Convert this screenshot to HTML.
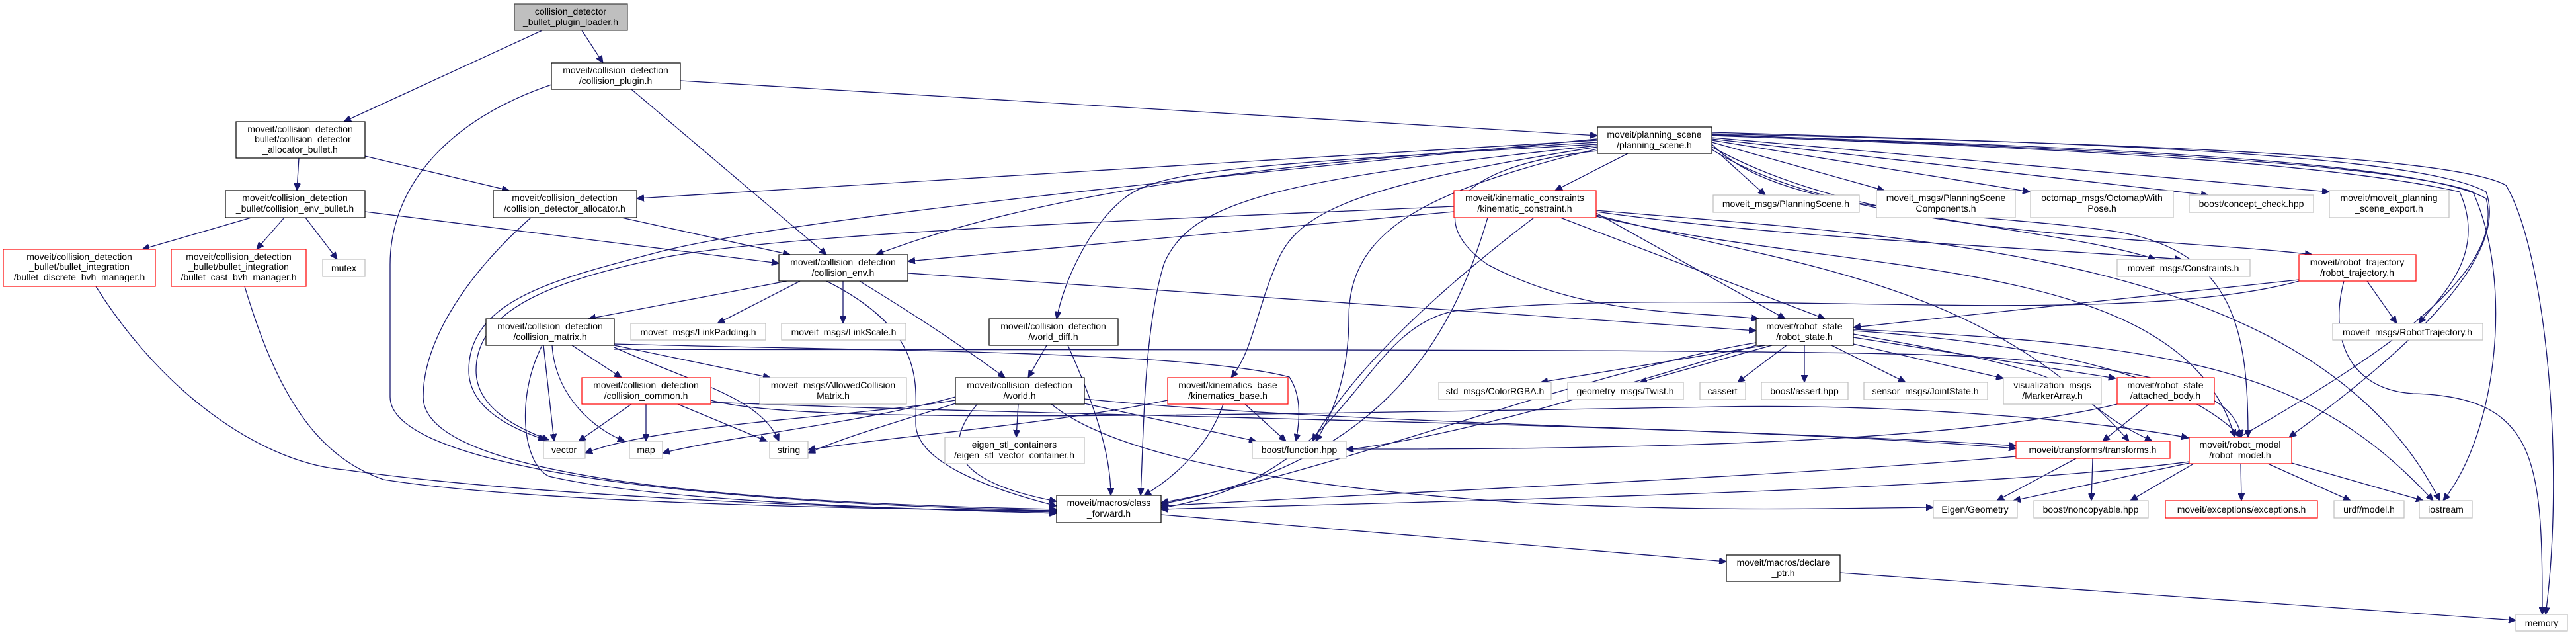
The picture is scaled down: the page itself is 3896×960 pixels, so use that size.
<!DOCTYPE html>
<html><head><meta charset="utf-8"><style>
html,body{margin:0;padding:0;background:#fff;}
svg{display:block;}
text{font-family:"Liberation Sans",sans-serif;font-size:14px;fill:#000;text-anchor:middle;}
.e{fill:none;stroke:#191970;stroke-width:1.3;marker-end:url(#a);}
.b{fill:#fff;stroke:#000;stroke-width:1.2;}
.g{fill:#fff;stroke:#bfbfbf;stroke-width:1.2;}
.r{fill:#fff;stroke:#ff0000;stroke-width:1.2;}
</style></head><body>
<svg width="3896" height="960" viewBox="0 0 3896 960" xmlns="http://www.w3.org/2000/svg">
<defs><marker id="a" markerUnits="userSpaceOnUse" markerWidth="12" markerHeight="10" refX="11" refY="5" orient="auto"><path d="M0,0 L11,5 L0,10 z" fill="#191970" stroke="#191970"/></marker></defs>

<!-- edges -->
<path class="e" d="M820,46 L520,184"/>
<path class="e" d="M880,46 L912,95"/>
<path class="e" d="M1029,122 L2416,205"/>
<path class="e" d="M955,135 L1250,385"/>
<path class="e" d="M834,128 C680,180 590,280 590,400 L590,600 C590,700 1000,760 1598,772"/>
<path class="e" d="M452,239 L449,288"/>
<path class="e" d="M552,236 L770,288"/>
<path class="e" d="M380,329 L215,377"/>
<path class="e" d="M430,329 L388,377"/>
<path class="e" d="M462,329 L510,392"/>
<path class="e" d="M552,320 L1178,398"/>
<path class="e" d="M940,329 L1195,385"/>
<path class="e" d="M803,329 C700,420 640,520 640,600 C640,720 1100,760 1598,770"/>
<path class="e" d="M145,433 C250,600 400,700 520,710 C800,750 1300,770 1598,774"/>
<path class="e" d="M370,433 C420,600 480,690 580,725 C800,760 1300,770 1598,772"/>
<path class="e" d="M2416,212 L963,300"/>
<path class="e" d="M2416,215 C2000,240 1600,280 1325,385"/>
<path class="e" d="M2462,232 L2352,288"/>
<path class="e" d="M2416,218 C1850,250 1750,260 1700,300 C1650,340 1610,420 1598,482"/>
<path class="e" d="M2416,220 C1950,270 1800,300 1760,400 C1730,500 1730,650 1725,749"/>
<path class="e" d="M2416,222 C2050,280 1960,320 1930,400 C1900,470 1895,530 1862,571"/>
<path class="e" d="M2416,225 C2150,290 2040,350 2040,480 C2040,560 2020,620 1990,667"/>
<path class="e" d="M2416,228 C2200,250 2150,330 2250,400 C2400,480 2560,470 2660,482"/>
<path class="e" d="M2600,232 L2670,295"/>
<path class="e" d="M2589,215 L2850,288"/>
<path class="e" d="M2589,212 L3070,290"/>
<path class="e" d="M2589,210 L3340,295"/>
<path class="e" d="M2589,208 L3523,290"/>
<path class="e" d="M2589,222 C2800,340 3100,340 3260,392"/>
<path class="e" d="M2589,226 C2800,360 3300,360 3497,385"/>
<path class="e" d="M2589,218 C2700,330 3000,320 3200,350 C3380,380 3400,500 3400,661"/>
<path class="e" d="M2589,205 C3000,220 3500,240 3720,290 C3760,380 3700,440 3658,489"/>
<path class="e" d="M2589,203 C3000,220 3600,240 3740,290 C3800,420 3780,650 3695,757"/>
<path class="e" d="M2589,204 C3100,220 3650,240 3760,300 C3800,450 3450,620 3222,757"/>
<path class="e" d="M2589,202 C3100,215 3700,230 3790,280 C3850,380 3880,700 3850,929"/>
<path class="e" d="M2589,200 C3100,215 3650,230 3760,290 C3800,400 3600,560 3462,661"/>
<path class="e" d="M2416,210 C1800,270 1200,330 1000,380 C850,420 709,450 709,560 C709,620 780,650 825,665"/>
<path class="e" d="M2199,312 C1800,330 1200,350 1000,390 C860,420 720,460 720,560 C720,620 790,650 830,665"/>
<path class="e" d="M2199,320 L1373,395"/>
<path class="e" d="M2250,329 C2200,500 2100,700 1756,762"/>
<path class="e" d="M2320,329 C2200,420 2050,550 1985,667"/>
<path class="e" d="M2414,322 L2700,482"/>
<path class="e" d="M2360,329 L2760,482"/>
<path class="e" d="M2414,325 C2700,400 3000,420 3220,667"/>
<path class="e" d="M2414,327 C2800,420 3300,380 3380,661"/>
<path class="e" d="M2414,320 C2700,360 3000,370 3300,392"/>
<path class="e" d="M2414,318 C2900,360 3500,380 3690,757"/>
<path class="e" d="M1190,425 L890,482"/>
<path class="e" d="M1210,425 L1085,489"/>
<path class="e" d="M1275,425 L1275,489"/>
<path class="e" d="M1300,425 C1390,480 1450,520 1520,571"/>
<path class="e" d="M1250,425 C1400,500 1385,580 1385,640 C1385,700 1500,740 1598,765"/>
<path class="e" d="M1373,413 L2656,500"/>
<path class="e" d="M865,522 L940,571"/>
<path class="e" d="M929,522 L1165,571"/>
<path class="e" d="M822,522 L838,667"/>
<path class="e" d="M835,522 C840,600 900,650 945,667"/>
<path class="e" d="M929,525 C1050,580 1150,600 1178,667"/>
<path class="e" d="M820,522 C780,600 790,700 830,720 C1000,760 1400,770 1598,776"/>
<path class="e" d="M929,520 C1300,530 1800,530 1950,570 C1970,600 1965,640 1960,667"/>
<path class="e" d="M929,528 C1500,530 2800,525 3000,540 C3300,560 3380,600 3390,661"/>
<path class="e" d="M955,611 L875,667"/>
<path class="e" d="M977,611 L977,667"/>
<path class="e" d="M1025,611 L1160,667"/>
<path class="e" d="M1075,605 C1200,640 1700,630 2600,615 C2900,610 3200,640 3310,662"/>
<path class="e" d="M1075,608 C1600,630 2600,640 3049,678"/>
<path class="e" d="M1445,605 C1300,630 1000,640 885,685"/>
<path class="e" d="M1445,600 C1300,640 1100,660 1002,685"/>
<path class="e" d="M1445,610 C1350,640 1280,660 1222,685"/>
<path class="e" d="M1540,611 L1537,661"/>
<path class="e" d="M1478,611 C1420,680 1450,730 1598,758"/>
<path class="e" d="M1640,610 L1900,667"/>
<path class="e" d="M1590,611 C1700,700 2000,740 2300,760 C2600,775 2800,768 2924,767"/>
<path class="e" d="M1640,603 C2000,640 2700,650 3049,674"/>
<path class="e" d="M1583,522 L1555,571"/>
<path class="e" d="M1615,522 C1650,600 1680,680 1680,749"/>
<path class="e" d="M1850,611 C1830,670 1780,720 1730,749"/>
<path class="e" d="M1883,611 L1945,667"/>
<path class="e" d="M1766,605 C1600,640 1350,660 1222,680"/>
<path class="e" d="M2670,522 L2330,578"/>
<path class="e" d="M2680,522 L2480,578"/>
<path class="e" d="M2702,522 L2628,578"/>
<path class="e" d="M2729,522 L2729,578"/>
<path class="e" d="M2770,522 L2882,578"/>
<path class="e" d="M2803,520 L3030,572"/>
<path class="e" d="M2803,510 L3200,572"/>
<path class="e" d="M2803,505 C3000,540 3100,560 3150,600 C3200,640 3220,650 3255,667"/>
<path class="e" d="M2803,500 C3100,520 3300,570 3390,661"/>
<path class="e" d="M2803,498 C3300,520 3500,560 3680,757"/>
<path class="e" d="M2656,518 C2400,560 2000,720 1756,760"/>
<path class="e" d="M2656,522 C2400,600 2200,660 2036,680"/>
<path class="e" d="M3477,423 L2803,495"/>
<path class="e" d="M3477,425 C3200,500 2600,430 2200,470 C2050,500 2050,720 1756,768"/>
<path class="e" d="M3580,425 L3625,489"/>
<path class="e" d="M3545,425 C3520,520 3560,590 3650,595 C3840,600 3845,700 3845,929"/>
<path class="e" d="M3250,611 L3180,667"/>
<path class="e" d="M3202,611 C3000,660 2600,680 2036,679"/>
<path class="e" d="M3140,693 L3020,757"/>
<path class="e" d="M3165,693 L3163,757"/>
<path class="e" d="M3049,690 C2700,720 2200,740 1756,765"/>
<path class="e" d="M3311,700 L3045,757"/>
<path class="e" d="M3389,701 L3390,757"/>
<path class="e" d="M3430,701 L3555,757"/>
<path class="e" d="M3466,700 L3665,757"/>
<path class="e" d="M3311,698 C3000,740 2300,755 1756,770"/>
<path class="e" d="M1756,778 L2611,849"/>
<path class="e" d="M2783,866 L3805,938"/>

<!-- nodes -->
<rect x="778" y="6" width="171" height="40" fill="#bfbfbf" stroke="#404040" stroke-width="1.2"/>
<text x="863" y="22">collision_detector</text><text x="863" y="38">_bullet_plugin_loader.h</text>

<rect class="b" x="834" y="95" width="195" height="40"/>
<text x="931" y="111">moveit/collision_detection</text><text x="931" y="127">/collision_plugin.h</text>

<rect class="b" x="357" y="184" width="195" height="55"/>
<text x="454" y="200">moveit/collision_detection</text><text x="454" y="215">_bullet/collision_detector</text><text x="454" y="231">_allocator_bullet.h</text>

<rect class="b" x="341" y="288" width="211" height="41"/>
<text x="446" y="304">moveit/collision_detection</text><text x="446" y="320">_bullet/collision_env_bullet.h</text>

<rect class="b" x="746" y="288" width="217" height="41"/>
<text x="854" y="304">moveit/collision_detection</text><text x="854" y="320">/collision_detector_allocator.h</text>

<rect class="r" x="5" y="377" width="230" height="56"/>
<text x="120" y="393">moveit/collision_detection</text><text x="120" y="408">_bullet/bullet_integration</text><text x="120" y="424">/bullet_discrete_bvh_manager.h</text>

<rect class="r" x="259" y="377" width="204" height="56"/>
<text x="361" y="393">moveit/collision_detection</text><text x="361" y="408">_bullet/bullet_integration</text><text x="361" y="424">/bullet_cast_bvh_manager.h</text>

<rect class="g" x="488" y="392" width="64" height="26"/><text x="520" y="410">mutex</text>

<rect class="b" x="1178" y="385" width="195" height="40"/>
<text x="1275" y="401">moveit/collision_detection</text><text x="1275" y="417">/collision_env.h</text>

<rect class="b" x="735" y="482" width="194" height="40"/>
<text x="832" y="498">moveit/collision_detection</text><text x="832" y="514">/collision_matrix.h</text>

<rect class="g" x="954" y="489" width="204" height="25"/><text x="1056" y="507">moveit_msgs/LinkPadding.h</text>
<rect class="g" x="1182" y="489" width="188" height="25"/><text x="1276" y="507">moveit_msgs/LinkScale.h</text>

<rect class="r" x="880" y="571" width="195" height="40"/>
<text x="977" y="587">moveit/collision_detection</text><text x="977" y="603">/collision_common.h</text>

<rect class="g" x="1149" y="571" width="222" height="40"/>
<text x="1260" y="587">moveit_msgs/AllowedCollision</text><text x="1260" y="603">Matrix.h</text>

<rect class="g" x="822" y="667" width="63" height="26"/><text x="853" y="685">vector</text>
<rect class="g" x="952" y="667" width="50" height="26"/><text x="977" y="685">map</text>
<rect class="g" x="1164" y="667" width="58" height="26"/><text x="1193" y="685">string</text>

<rect class="b" x="2416" y="192" width="173" height="40"/>
<text x="2502" y="208">moveit/planning_scene</text><text x="2502" y="224">/planning_scene.h</text>

<rect class="r" x="2199" y="288" width="215" height="41"/>
<text x="2306" y="304">moveit/kinematic_constraints</text><text x="2306" y="320">/kinematic_constraint.h</text>

<rect class="g" x="2591" y="295" width="221" height="26"/><text x="2701" y="313">moveit_msgs/PlanningScene.h</text>
<rect class="g" x="2838" y="288" width="210" height="41"/><text x="2943" y="304">moveit_msgs/PlanningScene</text><text x="2943" y="320">Components.h</text>
<rect class="g" x="3071" y="288" width="216" height="41"/><text x="3179" y="304">octomap_msgs/OctomapWith</text><text x="3179" y="320">Pose.h</text>
<rect class="g" x="3311" y="295" width="188" height="26"/><text x="3405" y="313">boost/concept_check.hpp</text>
<rect class="g" x="3523" y="288" width="181" height="41"/><text x="3613" y="304">moveit/moveit_planning</text><text x="3613" y="320">_scene_export.h</text>
<rect class="g" x="3202" y="392" width="201" height="26"/><text x="3302" y="410">moveit_msgs/Constraints.h</text>

<rect class="r" x="3477" y="385" width="177" height="40"/>
<text x="3565" y="401">moveit/robot_trajectory</text><text x="3565" y="417">/robot_trajectory.h</text>

<rect class="b" x="1496" y="482" width="195" height="40"/>
<text x="1593" y="498">moveit/collision_detection</text><text x="1593" y="514">/world_diff.h</text>

<rect class="b" x="1445" y="571" width="195" height="40"/>
<text x="1542" y="587">moveit/collision_detection</text><text x="1542" y="603">/world.h</text>

<rect class="r" x="1766" y="571" width="182" height="40"/>
<text x="1857" y="587">moveit/kinematics_base</text><text x="1857" y="603">/kinematics_base.h</text>

<rect class="g" x="1429" y="661" width="211" height="40"/>
<text x="1534" y="677">eigen_stl_containers</text><text x="1534" y="693">/eigen_stl_vector_container.h</text>

<rect class="g" x="1894" y="667" width="142" height="26"/><text x="1965" y="685">boost/function.hpp</text>

<rect class="b" x="1598" y="749" width="158" height="41"/>
<text x="1677" y="765">moveit/macros/class</text><text x="1677" y="781">_forward.h</text>

<rect class="g" x="2176" y="578" width="170" height="26"/><text x="2261" y="596">std_msgs/ColorRGBA.h</text>
<rect class="g" x="2371" y="578" width="175" height="26"/><text x="2458" y="596">geometry_msgs/Twist.h</text>
<rect class="g" x="2571" y="578" width="69" height="26"/><text x="2605" y="596">cassert</text>

<rect class="b" x="2656" y="482" width="147" height="40"/>
<text x="2729" y="498">moveit/robot_state</text><text x="2729" y="514">/robot_state.h</text>

<rect class="g" x="3528" y="489" width="227" height="25"/><text x="3641" y="507">moveit_msgs/RobotTrajectory.h</text>
<rect class="g" x="2664" y="578" width="131" height="26"/><text x="2729" y="596">boost/assert.hpp</text>
<rect class="g" x="2819" y="578" width="187" height="26"/><text x="2912" y="596">sensor_msgs/JointState.h</text>
<rect class="g" x="3030" y="571" width="148" height="40"/><text x="3104" y="587">visualization_msgs</text><text x="3104" y="603">/MarkerArray.h</text>

<rect class="r" x="3202" y="571" width="147" height="40"/>
<text x="3275" y="587">moveit/robot_state</text><text x="3275" y="603">/attached_body.h</text>

<rect class="r" x="3049" y="667" width="233" height="26"/><text x="3165" y="685">moveit/transforms/transforms.h</text>

<rect class="r" x="3311" y="661" width="155" height="40"/>
<text x="3388" y="677">moveit/robot_model</text><text x="3388" y="693">/robot_model.h</text>

<rect class="g" x="2924" y="757" width="127" height="26"/><text x="2987" y="775">Eigen/Geometry</text>
<rect class="g" x="3076" y="757" width="173" height="26"/><text x="3162" y="775">boost/noncopyable.hpp</text>
<rect class="r" x="3275" y="757" width="230" height="26"/><text x="3390" y="775">moveit/exceptions/exceptions.h</text>
<rect class="g" x="3530" y="757" width="106" height="26"/><text x="3583" y="775">urdf/model.h</text>
<rect class="g" x="3659" y="757" width="80" height="26"/><text x="3699" y="775">iostream</text>

<rect class="b" x="2611" y="839" width="172" height="40"/>
<text x="2697" y="855">moveit/macros/declare</text><text x="2697" y="871">_ptr.h</text>

<rect class="g" x="3805" y="929" width="78" height="25"/><text x="3844" y="947">memory</text>
</svg>
</body></html>
